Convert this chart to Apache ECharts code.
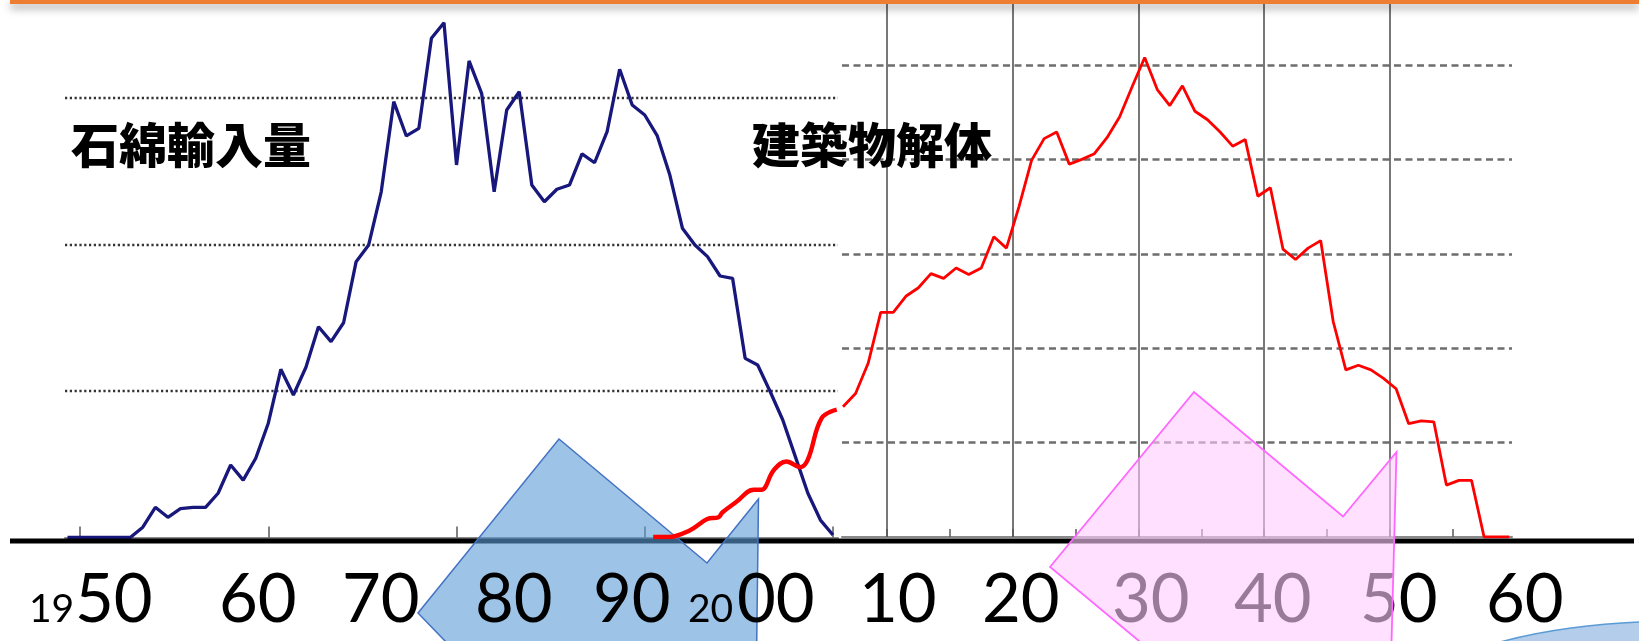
<!DOCTYPE html>
<html>
<head>
<meta charset="utf-8">
<script src="https://cdn.jsdelivr.net/npm/echarts@6/dist/echarts.min.js"></script>
<style>
  html, body { margin: 0; padding: 0; background: #fff; }
  #c { width: 1639px; height: 641px; }
</style>
</head>
<body>
<div id="c"></div>
<script>
// 石綿輸入量 (thousand t per year)
const importYears = [
  1944, 1945, 1946, 1947, 1948, 1949, 1950, 1951, 1952, 1953, 1954, 1955, 1956, 1957, 1958, 1959,
  1960, 1961, 1962, 1963, 1964, 1965, 1966, 1967, 1968, 1969, 1970, 1971, 1972, 1973, 1974, 1975,
  1976, 1977, 1978, 1979, 1980, 1981, 1982, 1983, 1984, 1985, 1986, 1987, 1988, 1989, 1990, 1991,
  1992, 1993, 1994, 1995, 1996, 1997, 1998, 1999, 2000, 2001, 2002, 2003, 2004, 2005
];
const importVolumes = [
  0, 0, 0, 0, 0, 0, 7.0, 20.6, 13.8, 19.7, 20.6, 20.6, 30.2, 49.5, 39.2, 54.1,
  78.0, 114.8, 97.3, 116.2, 143.9, 133.7, 146.6, 188.3, 199.7, 236.0, 297.5, 274.1, 279.3, 340.8, 351.4, 254.3,
  325.3, 303.2, 236.0, 291.8, 304.3, 240.6, 229.2, 237.7, 240.6, 261.8, 255.8, 277.0, 319.6, 295.2, 288.4, 274.1,
  247.4, 211.1, 199.7, 191.7, 178.5, 176.9, 122.3, 117.7, 99.5, 80.2, 55.2, 30.2, 11.9, 1.7
];

// 建築物解体 (relative volume, one dashed step = 10)
const demolitionYears = [
  2006, 2007, 2008, 2009, 2010, 2011, 2012, 2013, 2014, 2015, 2016, 2017, 2018, 2019, 2020, 2021,
  2022, 2023, 2024, 2025, 2026, 2027, 2028, 2029, 2030, 2031, 2032, 2033, 2034, 2035, 2036, 2037,
  2038, 2039, 2040, 2041, 2042, 2043, 2044, 2045, 2046, 2047, 2048, 2049, 2050, 2051, 2052, 2053,
  2054, 2055, 2056, 2057, 2058, 2059
];
const demolitionVolumes = [
  13.8, 15.2, 18.4, 23.8, 23.8, 25.5, 26.4, 27.9, 27.4, 28.5, 27.8, 28.5, 31.8, 30.6, 35.0, 39.9,
  42.2, 42.9, 39.5, 40.0, 40.6, 42.3, 44.5, 47.7, 50.8, 47.4, 45.7, 47.8, 45.1, 44.2, 42.9, 41.4,
  42.1, 36.1, 37.0, 30.5, 29.4, 30.6, 31.4, 22.8, 17.7, 18.2, 17.7, 16.8, 15.7, 12.0, 12.3, 12.2,
  5.5, 6.0, 6.0, 0, 0, 0
];

// Early demolition trend (hand-drawn lead-in, same scale as 建築物解体)
const leadInYears = [1990.9, 1992.1, 1993.8, 1995.2, 1996.1, 1996.4, 1997.5, 1998.9, 1999.5, 2000.5, 2001.5, 2002.6, 2003.2, 2004.3, 2005.5];
const leadInVolumes = [0, 0, 0.7, 1.9, 2.1, 2.6, 3.7, 5.0, 5.0, 7.1, 8.0, 7.4, 8.2, 12.6, 13.5];

// Axis ticks and reference lines
const importTickYears = [1945, 1960, 1975, 1990, 2005];
const demolitionTickYears = [2009.5, 2014.5, 2019.5, 2024.5, 2029.5, 2034.5, 2039.5, 2044.5, 2049.5, 2054.5];
const decadeLineYears = [2009.5, 2019.5, 2029.5, 2039.5, 2049.5];

// Year captions along the bottom
const captionTexts = ['19', '50', '60', '70', '80', '90', '20', '00', '10', '20', '30', '40', '50', '60'];
const captionSmall = [true, false, false, false, false, false, true, false, false, false, false, false, false, false];

// Layout (pixels)
const captionX = [29, 75, 219, 342, 475, 593, 688, 737, 859, 982, 1112, 1234, 1360, 1486];
const leftGrid = { left: 65, top: 0, width: 773, height: 537.5 };
const rightGrid = { left: 842, top: 0, width: 670, height: 537 };
const leadGrid = { left: 640, top: 0, width: 202, height: 537 };
const importRange = [1943.8, 2005.4];
const demolitionRange = [2005.92, 2059.22];
const yearsPerPx = (demolitionRange[1] - demolitionRange[0]) / rightGrid.width;
const leadRange = [demolitionRange[0] - leadGrid.width * yearsPerPx, demolitionRange[0]];
const importMax = leftGrid.height / 1.465;
const demolitionMax = rightGrid.height / 9.44;

const pair = (xs, ys) => xs.map((x, i) => [x, ys[i]]);

const chart = echarts.init(document.getElementById('c'), null, { renderer: 'canvas' });

const captionEls = captionTexts.map((t, i) => ({
  type: 'text',
  x: captionX[i],
  y: captionSmall[i] ? 609 : 600,
  z: 7,
  style: {
    text: t,
    font: (captionSmall[i] ? '39px' : '67px') + ' Lato, "Open Sans", sans-serif',
    fill: '#000',
    textAlign: 'left',
    textVerticalAlign: 'middle'
  }
}));

chart.setOption({
  animation: false,
  backgroundColor: '#fff',
  grid: [
    Object.assign({ containLabel: false }, leftGrid),
    Object.assign({ containLabel: false }, rightGrid),
    Object.assign({ containLabel: false }, leadGrid)
  ],
  xAxis: [
    {
      type: 'value', gridIndex: 0, min: importRange[0], max: importRange[1],
      axisLine: { show: true, onZero: false, lineStyle: { color: '#8a8a8a', width: 2 } },
      axisTick: { show: true, inside: true, length: 11, customValues: importTickYears, lineStyle: { color: '#5a5a5a', width: 1.5 } },
      axisLabel: { show: false },
      splitLine: { show: false }
    },
    {
      type: 'value', gridIndex: 1, min: demolitionRange[0], max: demolitionRange[1],
      axisLine: { show: true, onZero: false, lineStyle: { color: '#8a8a8a', width: 2 } },
      axisTick: { show: true, inside: true, length: 8, customValues: demolitionTickYears, lineStyle: { color: '#5a5a5a', width: 1.5 } },
      axisLabel: { show: false },
      splitLine: { show: false }
    },
    {
      type: 'value', gridIndex: 2, min: leadRange[0], max: leadRange[1],
      show: false
    }
  ],
  yAxis: [
    {
      type: 'value', gridIndex: 0, min: 0, max: importMax, interval: 100,
      axisLine: { show: false }, axisTick: { show: false }, axisLabel: { show: false },
      splitLine: { show: true, showMinLine: false, showMaxLine: false,
        lineStyle: { color: '#333', width: 2.4, type: [2.2, 2.6] } }
    },
    {
      type: 'value', gridIndex: 1, min: 0, max: demolitionMax, interval: 10,
      axisLine: { show: false }, axisTick: { show: false }, axisLabel: { show: false },
      splitLine: { show: true, showMinLine: false, showMaxLine: false,
        lineStyle: { color: '#6e6e6e', width: 2.5, type: [7, 4.5] } }
    },
    {
      type: 'value', gridIndex: 2, min: 0, max: demolitionMax, show: false
    }
  ],
  series: [
    {
      name: '石綿輸入量',
      type: 'line', xAxisIndex: 0, yAxisIndex: 0,
      data: pair(importYears, importVolumes),
      showSymbol: false, symbol: 'none',
      lineStyle: { color: '#17177c', width: 3.3 },
      z: 3, silent: true
    },
    {
      name: '建築物解体',
      type: 'line', xAxisIndex: 1, yAxisIndex: 1,
      data: pair(demolitionYears, demolitionVolumes),
      showSymbol: false, symbol: 'none',
      lineStyle: { color: '#ff0000', width: 2.8 },
      z: 3, silent: true,
      markLine: {
        z: 1, silent: true, symbol: ['none', 'none'],
        label: { show: false },
        lineStyle: { color: '#555', width: 1.6, type: 'solid' },
        emphasis: { disabled: true },
        data: decadeLineYears.map(v => ({ xAxis: v }))
      }
    },
    {
      name: '建築物解体 (初期)',
      type: 'line', xAxisIndex: 2, yAxisIndex: 2,
      data: pair(leadInYears, leadInVolumes),
      smooth: 0.4, showSymbol: false, symbol: 'none',
      lineStyle: { color: '#ff0000', width: 4.4 },
      z: 6, silent: true
    }
  ],
  graphic: [
    // slide rule under the charts
    { type: 'line', z: 4, silent: true,
      shape: { x1: 10, y1: 541, x2: 1634, y2: 541 },
      style: { stroke: '#000', lineWidth: 5 } },
    // blue arrow shape
    { type: 'polygon', z: 5, silent: true,
      shape: { points: [[418, 613], [559, 439], [707, 563], [758.5, 499], [756, 700], [502, 700]] },
      style: { fill: 'rgba(91,155,213,0.6)', stroke: '#4472C4', lineWidth: 1.5 } },
    // titles
    { type: 'text', x: 71, y: 145, z: 7,
      style: { text: '石綿輸入量', font: '900 48px "Noto Sans CJK JP"', fill: '#000', textAlign: 'left', textVerticalAlign: 'middle' } },
    { type: 'text', x: 752, y: 145, z: 7,
      style: { text: '建築物解体', font: '900 48px "Noto Sans CJK JP"', fill: '#000', textAlign: 'left', textVerticalAlign: 'middle' } },
    ...captionEls,
    // pink arrow shape
    { type: 'polygon', z: 8, silent: true,
      shape: { points: [[1050, 567], [1194, 392], [1343, 516.5], [1396.5, 452], [1390, 700], [1210, 700]] },
      style: { fill: 'rgba(255,205,255,0.6)', stroke: '#FF66FF', lineWidth: 1.8 } },
    // corner ellipse
    { type: 'ellipse', z: 8, silent: true,
      shape: { cx: 1680, cy: 711, rx: 280, ry: 90 },
      style: { fill: '#B4CDEB', stroke: '#5B9BD5', lineWidth: 1.5 } },
    // orange header band
    { type: 'rect', z: 9, silent: true,
      shape: { x: 10, y: 0, width: 1629, height: 4 },
      style: { fill: '#ED7D31', shadowBlur: 8, shadowOffsetY: 4, shadowColor: 'rgba(0,0,0,0.45)' } }
  ]
});
</script>
</body>
</html>
